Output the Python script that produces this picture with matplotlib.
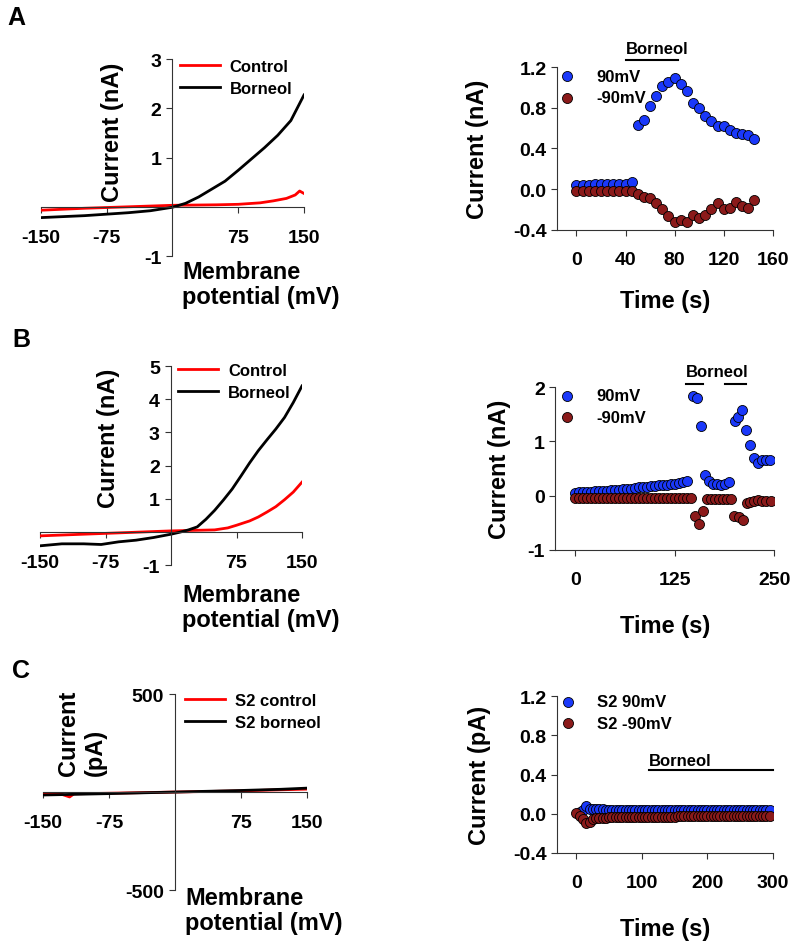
import matplotlib.pyplot as plt

plt.rcParams['font.family'] = ['Liberation Sans', 'DejaVu Sans']
plt.rcParams['font.weight'] = 'bold'
plt.rcParams['axes.labelweight'] = 'bold'
plt.rcParams['axes.unicode_minus'] = False

# ---- panel A : I-V curves (nA)
a_v_ctrl = [-150, -100, -50, 0, 50, 75, 100, 115, 130, 140, 145, 150]
a_i_ctrl = [-0.07, -0.03, 0.0, 0.03, 0.04, 0.05, 0.08, 0.12, 0.17, 0.24, 0.32, 0.27]
a_v_born = [-150, -125, -100, -75, -50, -25, 0, 15, 30, 45, 60, 75, 90, 105, 120, 135, 150]
a_i_born = [-0.22, -0.20, -0.18, -0.15, -0.12, -0.08, -0.01, 0.07, 0.20, 0.36, 0.52,
            0.74, 0.97, 1.20, 1.45, 1.75, 2.27]

# ---- panel A : time course (nA)
a_t = list(range(0, 150, 5))
a_i90 = [0.04, 0.04, 0.04, 0.05, 0.05, 0.05, 0.05, 0.05, 0.05, 0.07,
         0.63, 0.68, 0.82, 0.92, 1.01, 1.05, 1.09, 1.03, 0.96, 0.85,
         0.80, 0.72, 0.67, 0.62, 0.62, 0.58, 0.55, 0.54, 0.53, 0.49]
a_im90 = [-0.02, -0.02, -0.02, -0.02, -0.02, -0.02, -0.02, -0.02, -0.02, -0.02,
          -0.05, -0.08, -0.09, -0.14, -0.19, -0.26, -0.32, -0.30, -0.32, -0.25,
          -0.28, -0.25, -0.19, -0.14, -0.19, -0.18, -0.13, -0.16, -0.18, -0.11]
a_borneol = [(40, 83)]

# ---- panel B : I-V curves (nA)
b_v_ctrl = [-150, -100, -50, 0, 50, 65, 75, 90, 100, 110, 120, 130, 140, 150]
b_i_ctrl = [-0.12, -0.07, -0.02, 0.03, 0.06, 0.12, 0.20, 0.33, 0.45, 0.60, 0.76, 0.97, 1.20, 1.50]
b_v_born = [-150, -125, -100, -80, -60, -40, -20, 0, 10, 20, 30, 40, 50, 60, 70, 80,
            90, 100, 110, 120, 130, 140, 150]
b_i_born = [-0.42, -0.36, -0.36, -0.38, -0.30, -0.25, -0.17, -0.07, -0.01, 0.06, 0.15,
            0.38, 0.65, 0.96, 1.29, 1.68, 2.08, 2.45, 2.78, 3.10, 3.45, 3.90, 4.40]

# ---- panel B : time course (nA)
b_t90 = list(range(0, 145, 5)) + [148, 153, 158, 163, 168, 173, 178, 183, 188, 193,
                                  200, 204, 209, 214, 219, 224, 229, 234, 239, 245]
b_i90 = [0.05, 0.06, 0.06, 0.07, 0.07, 0.08, 0.08, 0.09, 0.09, 0.10,
         0.10, 0.11, 0.12, 0.12, 0.13, 0.14, 0.15, 0.15, 0.16, 0.17,
         0.18, 0.19, 0.20, 0.20, 0.21, 0.22, 0.24, 0.25, 0.27,
         1.84, 1.80, 1.28, 0.38, 0.27, 0.22, 0.22, 0.20, 0.22, 0.26,
         1.38, 1.45, 1.58, 1.20, 0.93, 0.69, 0.61, 0.65, 0.65, 0.65]
b_tm90 = list(range(0, 150, 5)) + [150, 155, 160, 165, 170, 175, 180, 185, 190, 195,
                                   199, 205, 211, 215, 220, 225, 230, 235, 240, 246]
b_im90 = [-0.05] * 30 + [-0.37, -0.53, -0.29, -0.06, -0.06, -0.06, -0.06, -0.06, -0.06, -0.06,
                         -0.37, -0.40, -0.45, -0.14, -0.12, -0.09, -0.08, -0.09, -0.09, -0.10]
b_borneol = [(139, 160), (188, 214)]

# ---- panel C : I-V curves (pA)
c_v_ctrl = [-150, -130, -120, -115, -75, 0, 75, 150]
c_i_ctrl = [-12, -10, -25, -9, -6, 0, 6, 15]
c_v_born = [-150, -75, 0, 75, 120, 150]
c_i_born = [-15, -8, 0, 8, 14, 20]

# ---- panel C : time course (pA)
c_t90 = list(range(5, 300, 5))
c_i90 = [0.02, 0.04, 0.08, 0.05, 0.05, 0.045, 0.045, 0.045, 0.04, 0.04,
         0.04, 0.04, 0.04, 0.04, 0.04, 0.04, 0.04, 0.04, 0.04, 0.04,
         0.04, 0.04, 0.04, 0.04, 0.04, 0.04, 0.04, 0.04, 0.04, 0.04,
         0.04, 0.04, 0.035, 0.035, 0.035, 0.035, 0.035, 0.035, 0.035, 0.035,
         0.035, 0.035, 0.035, 0.035, 0.035, 0.035, 0.035, 0.035, 0.035, 0.035,
         0.035, 0.035, 0.035, 0.035, 0.035, 0.035, 0.035, 0.035, 0.035]
c_tm90 = list(range(0, 300, 5))
c_im90 = [0.01, -0.02, -0.05, -0.09, -0.08, -0.05, -0.045, -0.04, -0.04, -0.04,
          -0.035, -0.035, -0.035, -0.035, -0.035, -0.035, -0.035, -0.035, -0.03, -0.03,
          -0.03, -0.03, -0.03, -0.03, -0.03, -0.03, -0.03, -0.03, -0.03, -0.03,
          -0.03, -0.025, -0.025, -0.025, -0.025, -0.025, -0.025, -0.025, -0.025, -0.025,
          -0.025, -0.025, -0.025, -0.02, -0.02, -0.02, -0.02, -0.02, -0.02, -0.02,
          -0.02, -0.02, -0.02, -0.02, -0.02, -0.02, -0.02, -0.02, -0.02, -0.02]
c_borneol = [(111, 300)]

BLUE = '#1a38fa'
DARKRED = '#8b1a1a'

fig = plt.figure(figsize=(8, 9.45), dpi=100)


def iv_panel(rect, vc, ic, vb, ib, labels, ylim, yticks, ylabel, ylab_xy, leg_xy, xlab_xy):
    ax = fig.add_axes(rect)
    ax.plot(vc, ic, color='red', lw=2, label=labels[0])
    ax.plot(vb, ib, color='black', lw=2, label=labels[1])
    ax.set_xlim(-150, 150)
    ax.set_ylim(*ylim)
    ax.spines['left'].set_position(('data', 0))
    ax.spines['bottom'].set_position(('data', 0))
    ax.spines['top'].set_visible(False)
    ax.spines['right'].set_visible(False)
    for s in ('left', 'bottom'):
        ax.spines[s].set_linewidth(0.8)
        ax.spines[s].set_color('#333333')
    ax.set_xticks([-150, -75, 75, 150])
    ax.set_yticks(yticks)
    ax.tick_params(direction='out', length=4, width=0.8, labelsize=14, color='#333333')
    ax.tick_params(axis='x', pad=12)
    ax.tick_params(axis='y', pad=4)
    ax.text(ylab_xy[0], ylab_xy[1], ylabel, transform=ax.transAxes, rotation=90,
            ha='center', va='center', fontsize=17, multialignment='left')
    ax.text(xlab_xy[0], xlab_xy[1], 'Membrane\npotential (mV)', transform=ax.transAxes,
            ha='left', va='center', fontsize=17, linespacing=1.15)
    ax.legend(loc='upper left', bbox_to_anchor=leg_xy, frameon=False, fontsize=12,
              handlelength=2.4, handletextpad=0.6, borderpad=0, borderaxespad=0,
              labelspacing=0.4)
    return ax


def time_panel(rect, t1, y1, t2, y2, labels, xmax, xticks, ylim, yticks, ytl,
               periods, bar_y, txt_y, ylabel, ylpad, xlpad, leg_xy):
    ax = fig.add_axes(rect)
    ax.scatter(t1, y1, s=52, color=BLUE, edgecolors='black', linewidths=0.6,
               label=labels[0], zorder=3)
    ax.scatter(t2, y2, s=52, color=DARKRED, edgecolors='black', linewidths=0.6,
               label=labels[1], zorder=4)
    ax.set_xlim(-0.1 * xmax, xmax)
    ax.set_ylim(*ylim)
    ax.set_xticks(xticks)
    ax.set_yticks(yticks)
    ax.set_yticklabels(ytl)
    ax.spines['top'].set_visible(False)
    ax.spines['right'].set_visible(False)
    for s in ('left', 'bottom'):
        ax.spines[s].set_linewidth(0.8)
        ax.spines[s].set_color('#333333')
    ax.tick_params(direction='out', length=4, width=0.8, labelsize=14, color='#333333')
    ax.tick_params(axis='x', pad=11)
    ax.set_xlabel('Time (s)', fontsize=17, labelpad=xlpad)
    ax.set_ylabel(ylabel, fontsize=17, labelpad=ylpad)
    for p in periods:
        ax.plot(p, [bar_y, bar_y], color='black', lw=1.5, clip_on=False)
    ax.text(periods[0][0], txt_y, 'Borneol', ha='left', va='center', fontsize=12)
    ax.legend(loc='upper left', bbox_to_anchor=leg_xy, frameon=False, fontsize=12,
              scatterpoints=1, handlelength=1.0, handletextpad=1.25, borderpad=0,
              borderaxespad=0, labelspacing=0.4)
    return ax


# A
iv_panel([0.051, 0.728, 0.329, 0.2085], a_v_ctrl, a_i_ctrl, a_v_born, a_i_born,
         ['Control', 'Borneol'], (-1, 3), [-1, 1, 2, 3], 'Current (nA)',
         (0.274, 0.635), (0.528, 1.0), (0.536, -0.142))
time_panel([0.696, 0.7556, 0.27, 0.1724], a_t, a_i90, a_t, a_im90, ['90mV', '-90mV'],
           160, [0, 40, 80, 120, 160], (-0.4, 1.2), [-0.4, 0.0, 0.4, 0.8, 1.2],
           ['-0.4', '0.0', '0.4', '0.8', '1.2'], a_borneol, 1.27, 1.38,
           'Current (nA)', 17, 15, (0.01, 0.99))

# B
iv_panel([0.05, 0.401, 0.3275, 0.2106], b_v_ctrl, b_i_ctrl, b_v_born, b_i_born,
         ['Control', 'Borneol'], (-1, 5), [-1, 1, 2, 3, 4, 5], 'Current (nA)',
         (0.26, 0.643), (0.527, 1.015), (0.542, -0.211))
time_panel([0.694, 0.417, 0.274, 0.1724], b_t90, b_i90, b_tm90, b_im90, ['90mV', '-90mV'],
           250, [0, 125, 250], (-1, 2), [-1, 0, 1, 2], ['-1', '0', '1', '2'],
           b_borneol, 2.06, 2.28, 'Current (nA)', 12, 19, (0.018, 0.994))

# C
iv_panel([0.054, 0.0571, 0.33, 0.2074], c_v_ctrl, c_i_ctrl, c_v_born, c_i_born,
         ['S2 control', 'S2 borneol'], (-500, 500), [-500, 500], 'Current\n(pA)',
         (0.148, 0.806), (0.538, 1.005), (0.538, -0.102))
time_panel([0.696, 0.0963, 0.27, 0.1661], c_t90, c_i90, c_tm90, c_im90,
           ['S2 90mV', 'S2 -90mV'], 300, [0, 100, 200, 300], (-0.4, 1.2),
           [-0.4, 0.0, 0.4, 0.8, 1.2], ['-0.4', '0.0', '0.4', '0.8', '1.2'],
           c_borneol, 0.45, 0.54, 'Current (pA)', 16, 19, (0.014, 1.013))

fig.text(0.009, 0.981, 'A', fontsize=18, ha='left', va='center')
fig.text(0.016, 0.640, 'B', fontsize=18, ha='left', va='center')
fig.text(0.015, 0.290, 'C', fontsize=18, ha='left', va='center')

fig.savefig('out.png', dpi=100)
